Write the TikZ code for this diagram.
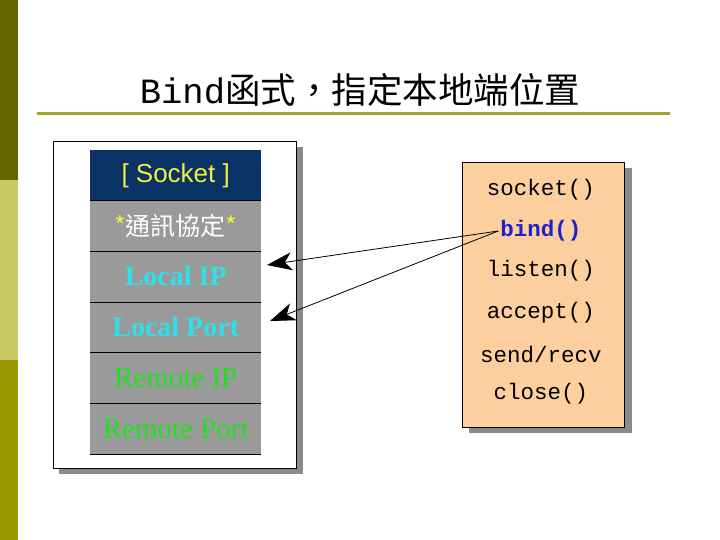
\documentclass[tikz,border=0pt]{standalone}
\usepackage{fontspec}
\setmainfont{Liberation Serif}
\newfontfamily\cjk{Noto Sans CJK TC}
\newfontfamily\arialf{Liberation Sans}
\newfontfamily\monof{Liberation Mono}
\usetikzlibrary{arrows.meta}
\definecolor{stripA}{HTML}{666600}
\definecolor{stripB}{HTML}{C8C864}
\definecolor{stripC}{HTML}{999900}
\definecolor{ruleol}{HTML}{A3A332}
\definecolor{navy}{HTML}{0A3264}
\definecolor{rowgray}{HTML}{9A9A9A}
\definecolor{shadowgray}{HTML}{8A8A8A}
\definecolor{peach}{HTML}{FDCF9F}
\definecolor{ylw}{HTML}{F0F040}
\definecolor{cyn}{HTML}{30E0E8}
\definecolor{grn}{HTML}{20E020}
\definecolor{bindblue}{HTML}{2020C8}
\tikzset{
  rowbox/.style={anchor=north west, minimum width=171pt, minimum height=50.7pt, inner sep=0pt, fill=rowgray},
  localtext/.style={font=\bfseries\fontsize{28}{30}\selectfont, text=cyn},
  remotetext/.style={font=\fontsize{29}{30}\selectfont, text=grn},
  fnitem/.style={font=\monof\fontsize{22.5}{24}\selectfont, inner sep=2pt},
  ptr/.style={draw=black, line width=0.8pt, -{Stealth[length=25pt,width=18pt,inset=7pt]}},
}
\begin{document}
\begin{tikzpicture}[x=1pt,y=-1pt]
\useasboundingbox (0,0) rectangle (720,540);
\fill[white] (0,0) rectangle (720,540);
\fill[stripA] (0,0) rectangle (18,180);
\fill[stripB] (0,180) rectangle (18,360);
\fill[stripC] (0,360) rectangle (18,540);
% title
\node[inner sep=0pt] (title) at (360,90) {\fontsize{35.5}{37}\selectfont{\monof Bind}{\cjk 函式，指定本地端位置}};
\draw[ruleol, line width=3pt] (37,114) -- (670,114);
% left box
\fill[shadowgray] (59,147) rectangle (303,474);
\node[draw=black, fill=white, line width=1pt, anchor=north west, minimum width=243pt, minimum height=327pt, inner sep=0pt] (lbox) at (53,141) {};
\node[rowbox, fill=navy] (r0) at (90,150) {\arialf\fontsize{26}{28}\selectfont\color{ylw}[ Socket ]};
\node[rowbox, text depth=0pt] (r1) at (90,200.7) {\raisebox{3pt}{\cjk\fontsize{25}{27}\selectfont\textcolor{ylw}{*}\textcolor{white}{通訊協定}\textcolor{ylw}{*}}};
\node[rowbox, localtext] (r2) at (90,251.4) {\raisebox{2pt}{Local IP}};
\node[rowbox, localtext] (r3) at (90,302.1) {\raisebox{1pt}{Local Port}};
\node[rowbox, remotetext] (r4) at (90,352.8) {Remote IP};
\node[rowbox, remotetext] (r5) at (90,403.5) {Remote Port};
\foreach \n in {r1,r2,r3,r4,r5}{\draw[black, line width=0.8pt] (\n.north west) -- (\n.north east);}
\draw[black, line width=0.8pt] (r5.south west) -- (r5.south east);
% right box
\fill[shadowgray] (469,168) rectangle (632,433);
\node[draw=black, fill=peach, line width=1pt, anchor=north west, minimum width=162pt, minimum height=265pt, inner sep=0pt] (rbox) at (462,162) {};
\node[fnitem] (f1) at (541,190) {socket()};
\node[fnitem, text=bindblue, font=\monof\bfseries\fontsize{22.5}{24}\selectfont] (bind) at (541,231) {bind()};
\node[fnitem] (f3) at (541,271) {listen()};
\node[fnitem] (f4) at (541,313) {accept()};
\node[fnitem] (f5) at (541,354) {send/recv};
\node[fnitem] (f6) at (541,394) {close()};
% arrows
\coordinate (tipIP) at (267,265);
\coordinate (tipPort) at (270,321);
\draw[ptr] (bind.west) -- (tipIP);
\draw[ptr] (bind.west) -- (tipPort);
\end{tikzpicture}
\end{document}
